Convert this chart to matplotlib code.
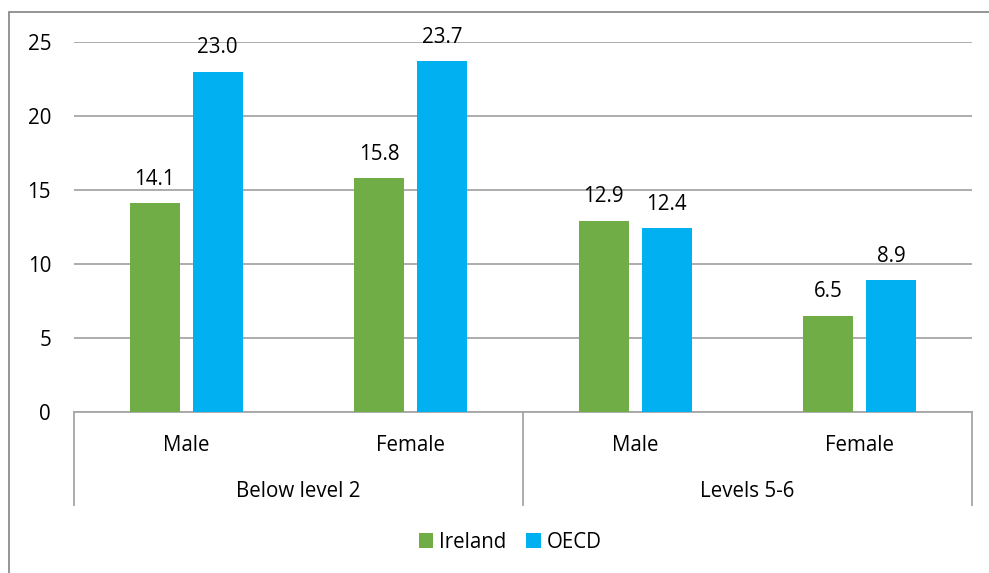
import matplotlib.pyplot as plt
import numpy as np

# data
groups = ["Below level 2", "Levels 5-6"]
genders = ["Male", "Female", "Male", "Female"]
ireland = [14.1, 15.8, 12.9, 6.5]
oecd = [23.0, 23.7, 12.4, 8.9]

verde = "#70AD47"
azul = "#00B0F0"
cinza = "#A6A6A6"

plt.rcParams['font.family'] = ['Open Sans', 'DejaVu Sans']
plt.rcParams['font.size'] = 15
fs = 14.8

W, H = 989, 573
fig = plt.figure(figsize=(W / 100, H / 100), dpi=100)

# moldura externa
fig.patches.append(plt.Rectangle((9 / W, -0.05), 1.1, 1 - 12 / H + 0.05,
                                 transform=fig.transFigure, fill=False,
                                 edgecolor="#8C8C8C", linewidth=1.3))

ax = fig.add_axes([74 / W, (H - 412) / H, (972 - 74) / W, (412 - 42) / H])

x = np.arange(len(genders))
larg = 0.222
desl = 0.14
b1 = ax.bar(x - desl, ireland, larg, color=verde, label="Ireland", zorder=3)
b2 = ax.bar(x + desl, oecd, larg, color=azul, label="OECD", zorder=3)

for barras, vals in [(b1, ireland), (b2, oecd)]:
    for r, v in zip(barras, vals):
        ax.text(r.get_x() + r.get_width() / 2, v + 1.26, "{:.1f}".format(v),
                ha="center", va="baseline", fontsize=fs, color="black")

ax.set_xlim(-0.5, len(genders) - 0.5)
ax.set_ylim(0, 25)
ax.set_yticks([0, 5, 10, 15, 20, 25])
ax.yaxis.grid(True, color=cinza, linewidth=1.3, zorder=0)
ax.set_axisbelow(True)
ax.tick_params(axis="y", length=0, pad=16.5, labelsize=fs, labelcolor="black")
ax.tick_params(axis="x", length=0, labelbottom=False)
for s in ["left", "right", "top"]:
    ax.spines[s].set_visible(False)
ax.spines["bottom"].set_color(cinza)
ax.spines["bottom"].set_linewidth(1.3)

# rotulos hierarquicos
trans = ax.get_xaxis_transform()
fundo = -(505 - 412) / (412 - 42)
for i, g in enumerate(genders):
    ax.text(i, -(451 - 412) / (412 - 42), g, transform=trans, ha="center",
            va="baseline", fontsize=fs)
for j, g in enumerate(groups):
    ax.text(2 * j + 0.5, -(497 - 412) / (412 - 42), g, transform=trans,
            ha="center", va="baseline", fontsize=fs)
for xs in [-0.5, 1.5, 3.5]:
    ax.plot([xs, xs], [0, fundo], transform=trans, color=cinza,
            linewidth=1.3, clip_on=False)

fig.legend(handles=[b1, b2], labels=["Ireland", "OECD"], loc="center",
           bbox_to_anchor=(510 / W, (H - 542) / H), ncol=2, frameon=False,
           fontsize=fs, handlelength=0.72, handleheight=0.72,
           handletextpad=0.25, columnspacing=1.0)

fig.savefig("out.png", dpi=100)
